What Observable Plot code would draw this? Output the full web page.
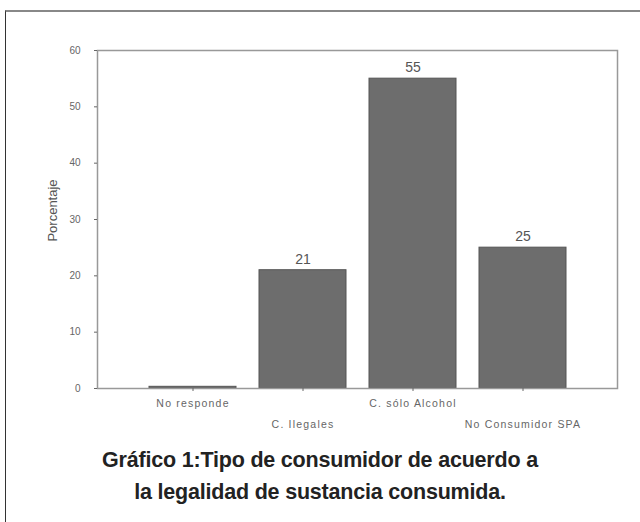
<!DOCTYPE html>
<html>
<head>
<meta charset="utf-8">
<script src="https://cdn.jsdelivr.net/npm/d3@7"></script>
<script src="https://cdn.jsdelivr.net/npm/@observablehq/plot@0.6"></script>
<style>
  html, body { margin: 0; padding: 0; background: #fff; }
  #wrap { position: relative; width: 640px; height: 522px; overflow: hidden; }
  #frame { position: absolute; left: 5px; top: 10px; width: 640px; height: 520px; border-left: 1.5px solid #333; border-top: 2px solid #888; }
  #chart { position: absolute; left: 0; top: 0; }
  #chart g[aria-label="x-axis tick label"] text { letter-spacing: 1.2px; }
  #caption { position: absolute; left: 0; top: 444px; width: 640px; text-align: center;
    font-family: "Liberation Sans", Arial, sans-serif; font-weight: bold; font-size: 21.5px; letter-spacing: -0.2px; line-height: 32px; color: #222; }
</style>
</head>
<body>
<div id="wrap">
  <div id="frame"></div>
  <div id="chart"></div>
  <div id="caption">Gráfico 1:Tipo de consumidor de acuerdo a<br>la legalidad de sustancia consumida.</div>
</div>
<script>
const categories = ["No responde", "C. Ilegales", "C. sólo Alcohol", "No Consumidor SPA"];
const values = [0.3, 21, 55, 25];
const valueLabels = ["", "21", "55", "25"];
const yTicks = [0, 10, 20, 30, 40, 50, 60];
const yLabel = "Porcentaje";

const data = categories.map((c, i) => ({cat: c, value: values[i], label: valueLabels[i]}));
const row1 = categories.filter((c, i) => i % 2 === 0);
const row2 = categories.filter((c, i) => i % 2 === 1);

const chart = Plot.plot({
  width: 640,
  height: 440,
  marginLeft: 97,
  marginRight: 23,
  marginTop: 50,
  marginBottom: 52,
  style: {fontFamily: "Liberation Sans, Arial, sans-serif", background: "transparent"},
  x: {domain: categories, paddingInner: 0.21, paddingOuter: 0.46},
  y: {domain: [0, 60]},
  marks: [
    Plot.barY(data, {x: "cat", y: "value", fill: "#6d6d6d", stroke: "#555", strokeWidth: 1}),
    Plot.text(data.filter(d => d.label), {x: "cat", y: "value", text: "label", dy: -11, fontSize: 14, fill: "#555"}),
    Plot.frame({stroke: "#999", strokeWidth: 1.5}),
    Plot.axisY({ticks: yTicks, tickSize: 3, tickPadding: 14, fontSize: 10, color: "#666", label: null}),
    Plot.text([yLabel], {frameAnchor: "left", textAnchor: "middle", rotate: -90, dx: -45, dy: -9, fontSize: 13, fill: "#555"}),
    Plot.axisX({ticks: row1, tickSize: 3, tickPadding: 8, fontSize: 10.5, color: "#666", label: null}),
    Plot.axisX({ticks: row2, tickSize: 3, tickPadding: 29, fontSize: 10.5, color: "#666", label: null})
  ]
});
document.getElementById("chart").appendChild(chart);
</script>
</body>
</html>
